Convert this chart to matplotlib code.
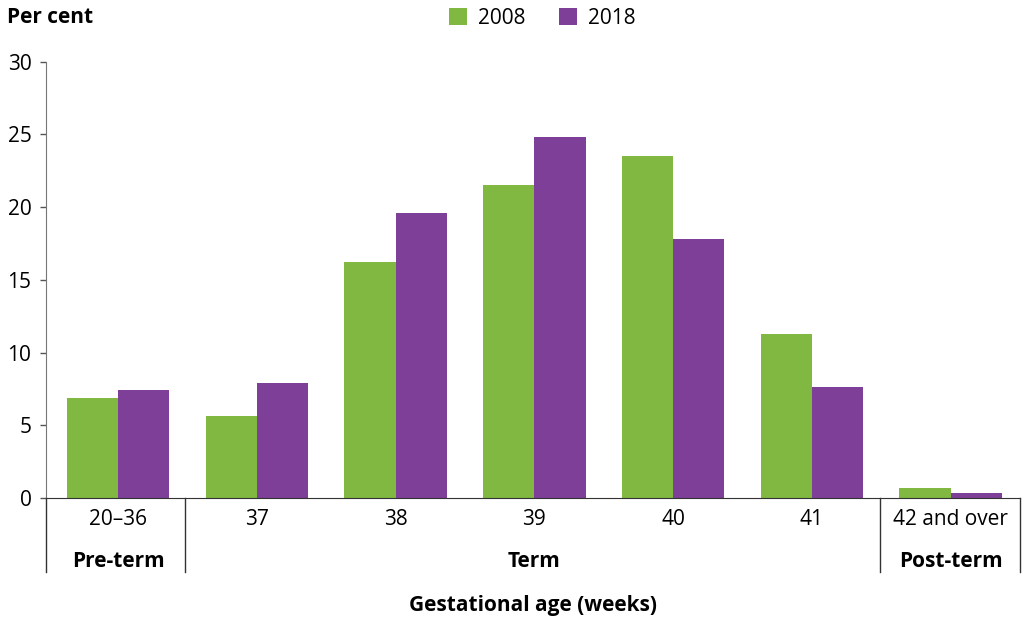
import matplotlib
matplotlib.use("Agg")
import matplotlib.pyplot as plt
import numpy as np

plt.rcParams['font.family'] = ['Open Sans', 'DejaVu Sans']

# data
categories = ['20–36', '37', '38', '39', '40', '41', '42 and over']
series_names = ['2008', '2018']
values_2008 = [6.9, 5.6, 16.2, 21.5, 23.5, 11.3, 0.7]
values_2018 = [7.4, 7.9, 19.6, 24.8, 17.8, 7.6, 0.35]
groups = ['Pre-term', 'Term', 'Post-term']
group_spans = [(0, 0), (1, 5), (6, 6)]

green = '#80b842'
purple = '#7e3f98'
fs = 15

fig = plt.figure(figsize=(10.22, 6.17), dpi=100)
ax = fig.add_axes([0.045, 0.193, 0.953, 0.707])

x = np.arange(len(categories))
w = 0.37
ax.bar(x - w / 2, values_2008, w, color=green, label=series_names[0])
ax.bar(x + w / 2, values_2018, w, color=purple, label=series_names[1])

ax.set_xlim(-0.52, 6.5)
ax.set_ylim(0, 30)
ax.set_yticks([0, 5, 10, 15, 20, 25, 30])
ax.tick_params(axis='y', length=4.5, width=1, color='#555555', labelsize=fs, pad=6)
ax.set_xticks(x)
ax.set_xticklabels(categories, fontsize=fs)
ax.tick_params(axis='x', length=0, pad=8)

for s in ['top', 'right']:
    ax.spines[s].set_visible(False)
ax.spines['left'].set_color('#777777')
ax.spines['bottom'].set_color('#333333')

# group separators and labels under the axis
tr = ax.get_xaxis_transform()
for b in [-0.52, 0.48, 5.49, 6.5]:
    ax.plot([b, b], [0, -0.17], transform=tr, color='#333333', lw=1, clip_on=False)
for name, (a, b) in zip(groups, group_spans):
    ax.text((a + b) / 2, -0.145, name, transform=tr, ha='center', va='center',
            fontsize=fs, fontweight='bold')

fig.text(0.522, 0.019, 'Gestational age (weeks)', ha='center', va='center',
         fontsize=fs, fontweight='bold')
fig.text(0.007, 0.972, 'Per cent', ha='left', va='center', fontsize=fs, fontweight='bold')

ax.legend(loc='center', bbox_to_anchor=(0.531, 0.970), bbox_transform=fig.transFigure,
          ncol=2, frameon=False, fontsize=fs, handlelength=0.85, handleheight=0.85,
          columnspacing=1.6, handletextpad=0.55, borderaxespad=0)

fig.savefig('out.png', dpi=100)
